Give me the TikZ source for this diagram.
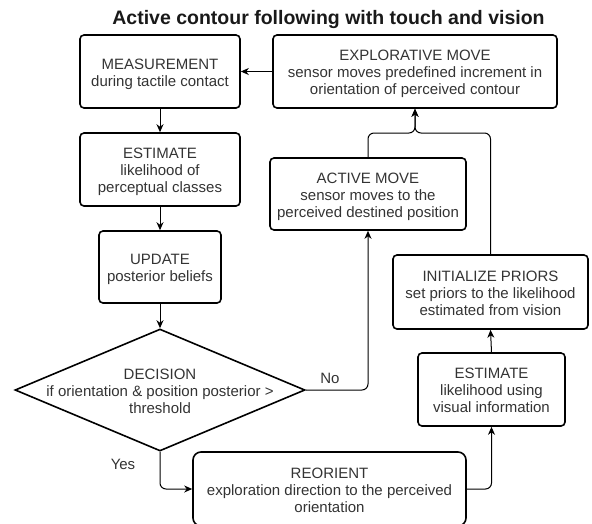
\documentclass[tikz,border=0pt]{standalone}
\usepackage{fontspec}
\setmainfont{Liberation Sans}
\usetikzlibrary{shapes.geometric,arrows.meta}
\definecolor{txt}{HTML}{333333}
\begin{document}
\begin{tikzpicture}[x=1pt,y=-1pt,
 ltwo/.style={text height=29pt, text depth=0pt},
 lthree/.style={text height=46pt, text depth=0pt},
 box/.style={draw=black, line width=1.6pt, rounded corners=4pt, text=txt, align=center, font=\fontsize{15}{17}\selectfont, inner sep=0pt},
 conn/.style={line width=1pt, rounded corners=6pt, -{Stealth[length=8pt,width=7pt,inset=2.5pt]}},
 lbl/.style={text=txt, font=\fontsize{15}{17}\selectfont}]
\useasboundingbox (0,0) rectangle (592,523);
\node[font=\bfseries\fontsize{19.5}{22}\selectfont, text=black!90, anchor=base] (title) at (328.5,24) {Active contour following with touch and vision};
\node[box, ltwo, minimum width=160pt, minimum height=73pt] (meas) at (160,71.5) {MEASUREMENT\\during tactile contact};
\node[box, lthree, minimum width=160pt, minimum height=73pt] (est1) at (160,169.5) {ESTIMATE\\likelihood of\\perceptual classes};
\node[box, ltwo, minimum width=122pt, minimum height=72pt] (upd) at (160,267) {UPDATE\\posterior beliefs};
\node[draw, diamond, line width=1.6pt, minimum width=290pt, minimum height=122pt, inner sep=0pt] (dec) at (160,390) {};
\node[lbl, lthree, align=center, inner sep=0pt] (dectext) at (160,390) {DECISION\\if orientation \& position posterior >\\threshold};
\node[box, lthree, minimum width=284pt, minimum height=73pt] (expl) at (415,71.5) {EXPLORATIVE MOVE\\sensor moves predefined increment in\\orientation of perceived contour};
\node[box, lthree, minimum width=196pt, minimum height=72pt] (act) at (368,194) {ACTIVE MOVE\\sensor moves to the\\perceived destined position};
\node[box, lthree, minimum width=195pt, minimum height=74pt] (init) at (490.5,292) {INITIALIZE PRIORS\\set priors to the likelihood\\estimated from vision};
\node[box, lthree, minimum width=147pt, minimum height=73pt] (est2) at (491.5,389.5) {ESTIMATE\\likelihood using\\visual information};
\node[box, lthree, rounded corners=8pt, minimum width=273pt, minimum height=74pt] (reor) at (329.5,489) {REORIENT\\exploration direction to the perceived\\orientation};
\coordinate (join) at (415,133);
\draw[conn] (expl.west) -- (meas.east);
\draw[conn] (meas.south) -- (est1.north);
\draw[conn] (est1.south) -- (upd.north);
\draw[conn] (upd.south) -- (dec.north);
\draw[conn] (dec.south) |- (reor.west);
\draw[conn] (dec.east) -| (act.south);
\draw[conn] (reor.east) -| (est2.south);
\draw[conn] (est2.north) -- (init.south);
\draw[conn] (init.north) |- (join) -- (expl.south);
\draw[conn] (act.north) |- (join) -- (expl.south);
\node[lbl] (yes) at (123,464) {Yes};
\node[lbl] (no) at (330,378) {No};
\end{tikzpicture}
\end{document}
